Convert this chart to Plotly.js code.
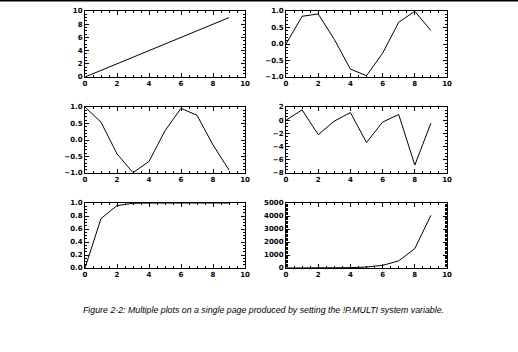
<!DOCTYPE html>
<html>
<head>
<meta charset="utf-8">
<script src="https://cdn.plot.ly/plotly-3.0.1.min.js"></script>
<style>html,body{margin:0;padding:0;background:#fff;}#chart{width:518px;height:352px;}</style>
</head>
<body>
<div id="chart"></div>
<script>
var xValues = [0, 1, 2, 3, 4, 5, 6, 7, 8, 9];
var linearValues = [0, 1, 2, 3, 4, 5, 6, 7, 8, 9];
var sinValues = [0.00, 0.84, 0.91, 0.14, -0.76, -0.96, -0.28, 0.66, 0.99, 0.41];
var cosValues = [1.00, 0.54, -0.42, -0.99, -0.65, 0.28, 0.96, 0.75, -0.15, -0.91];
var tanValues = [0.00, 1.56, -2.19, -0.14, 1.16, -3.38, -0.29, 0.87, -6.80, -0.45];
var tanhValues = [0.00, 0.76, 0.96, 0.995, 0.999, 1.0, 1.0, 1.0, 1.0, 1.0];
var coshValues = [1, 1.5, 3.8, 10, 27, 74, 202, 548, 1490, 4051];

var xTickVals = [0, 2, 4, 6, 8, 10];
var yRanges = [[0, 10], [-1, 1], [-1, 1], [-8, 2], [0, 1], [0, 5000]];
var yMajor = [2, 0.5, 0.5, 2, 0.2, 1000];
var yMinor = [0.5, 0.1, 0.1, 0.5, 0.05, 100];
var yTickFormats = ['d', '.1f', '.1f', 'd', '.1f', 'd'];
var seriesList = [linearValues, sinValues, cosValues, tanValues, tanhValues, coshValues];
var captionText = 'Figure 2-2: Multiple plots on a single page produced by setting the !P.MULTI system variable.';

var W = 518, H = 352;
var colX = [[85, 245], [286, 447]];
var rowY = [[11, 77], [107, 173], [203, 268]];
var tickFont = {family: 'DejaVu Sans', size: 7, color: '#000', weight: 'bold'};

var data = [];
var layout = {
  width: W, height: H,
  margin: {l: 0, r: 0, t: 0, b: 0},
  paper_bgcolor: '#fff', plot_bgcolor: '#fff',
  showlegend: false,
  shapes: [{type: 'line', xref: 'paper', yref: 'paper', x0: 0, x1: 1, y0: 1 - 0.8 / H, y1: 1 - 0.8 / H, line: {color: '#000', width: 1.5}}],
  annotations: [{xref: 'paper', yref: 'paper', x: 263 / W, y: 1 - 310 / H, xanchor: 'center', yanchor: 'middle', showarrow: false,
    text: '<i>' + captionText + '</i>', font: {family: 'Liberation Sans', size: 8.8, color: '#000'}}]
};

for (var i = 0; i < 6; i++) {
  var col = i % 2, row = Math.floor(i / 2);
  var suffix = i === 0 ? '' : String(i + 1);
  data.push({x: xValues, y: seriesList[i], type: 'scatter', mode: 'lines',
    line: {color: '#000', width: 1}, xaxis: 'x' + suffix, yaxis: 'y' + suffix, cliponaxis: true});
  var common = {showline: true, linecolor: '#000', linewidth: 1, mirror: 'allticks', ticks: 'inside',
    ticklen: 4, tickwidth: 1, tickcolor: '#000', showgrid: false, zeroline: false, tickfont: tickFont, fixedrange: true};
  layout['xaxis' + suffix] = Object.assign({}, common, {
    domain: [colX[col][0] / W, colX[col][1] / W], anchor: 'y' + suffix, range: [0, 10],
    tickmode: 'array', tickvals: xTickVals, ticktext: xTickVals.map(String),
    minor: {ticks: 'inside', ticklen: 2, dtick: 0.5, tick0: 0, tickcolor: '#000', showgrid: false}
  });
  layout['yaxis' + suffix] = Object.assign({}, common, {
    domain: [1 - rowY[row][1] / H, 1 - rowY[row][0] / H], anchor: 'x' + suffix, range: yRanges[i],
    tickmode: 'linear', tick0: yRanges[i][0], dtick: yMajor[i], tickformat: yTickFormats[i],
    minor: {ticks: 'inside', ticklen: 2, dtick: yMinor[i], tick0: yRanges[i][0], tickcolor: '#000', showgrid: false}
  });
}

Plotly.newPlot('chart', data, layout, {staticPlot: true});
</script>
</body>
</html>
